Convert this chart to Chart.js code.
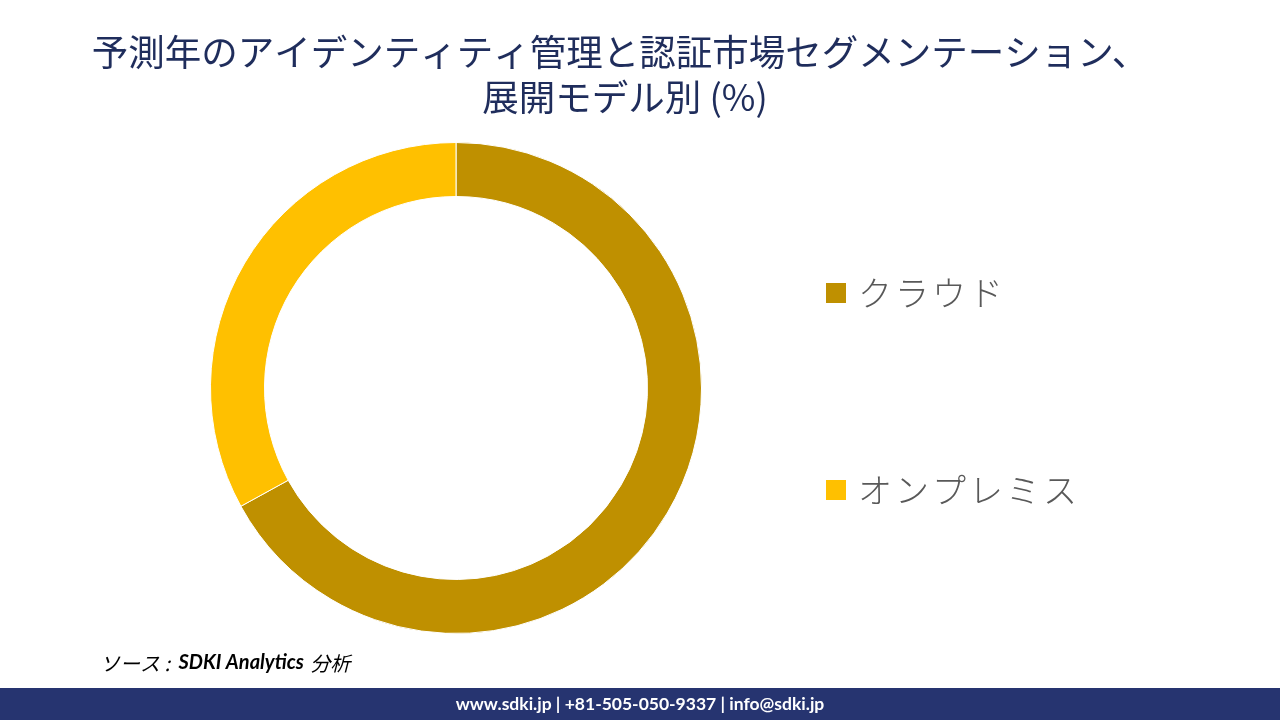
<!DOCTYPE html>
<html>
<head>
<meta charset="utf-8">
<script src="https://cdn.jsdelivr.net/npm/chart.js@4.4.0/dist/chart.umd.min.js"></script>
<style>
  html, body { margin: 0; padding: 0; background: #fff; }
  #wrap { position: relative; width: 1280px; height: 720px; }
</style>
</head>
<body>
<div id="wrap"><canvas id="donut" width="1280" height="720"></canvas></div>
<script>
const categorias = ['クラウド', 'オンプレミス'];
const valores = [67, 33];
const colores = ['#BF9000', '#FFC000'];
const titulo = ['予測年のアイデンティティ管理と認証市場セグメンテーション、', '展開モデル別 (%)'];

// titulo, leyenda, fuente y pie dibujados a mano
const extras = {
    id: 'extras',
    afterDraw(chart) {
        const c = chart.ctx;
        c.save();
        c.textBaseline = 'middle';
        c.textAlign = 'center';
        c.fillStyle = '#1F2D5C';
        c.font = '36.5px "Noto Sans CJK JP"';
        c.fillText(titulo[0], 620, 52);
        c.fillText(titulo[1], 625, 97);

        // leyenda
        const ys = [293, 490];
        c.textAlign = 'left';
        c.font = '300 34px "Noto Sans CJK JP"';
        c.letterSpacing = '3px';
        categorias.forEach((cat, i) => {
            c.fillStyle = colores[i];
            c.fillRect(826, ys[i] - 10, 20, 20);
            c.fillStyle = '#595959';
            c.fillText(cat, 858, ys[i]);
        });
        c.letterSpacing = '0px';

        // fuente
        c.fillStyle = '#000';
        c.font = 'italic 20px "Noto Sans CJK JP"';
        let x = 100;
        c.fillText('ソース : ', x, 663);
        x += c.measureText('ソース : ').width + 4;
        c.font = 'italic bold 20px Lato';
        c.fillText('SDKI Analytics ', x, 663);
        x += c.measureText('SDKI Analytics ').width + 2;
        c.font = 'italic 20px "Noto Sans CJK JP"';
        c.fillText('分析', x, 663);

        // pie de pagina
        c.fillStyle = '#263470';
        c.fillRect(0, 688, 1280, 32);
        c.fillStyle = '#fff';
        c.textAlign = 'center';
        c.font = 'bold 17.5px Lato';
        c.fillText('www.sdki.jp | +81-505-050-9337 | info@sdki.jp', 640, 704);
        c.restore();
    }
};

const ctx = document.getElementById('donut').getContext('2d');
const grafico = new Chart(ctx, {
    type: 'doughnut',
    data: {
        labels: categorias,
        datasets: [{
            data: valores,
            backgroundColor: colores,
            borderColor: '#ffffff',
            borderWidth: 1
        }]
    },
    options: {
        responsive: false,
        animation: false,
        cutout: '78%',
        layout: {
            padding: { left: 210, right: 578, top: 142, bottom: 86 }
        },
        plugins: {
            legend: { display: false },
            title: { display: false },
            tooltip: { enabled: false }
        }
    },
    plugins: [extras]
});
</script>
</body>
</html>
